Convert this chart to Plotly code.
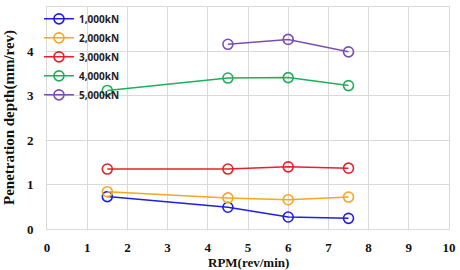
import plotly.graph_objects as go

rpm = [1.5, 4.5, 6, 7.5]
rpm_5000 = [4.5, 6, 7.5]
d_1000 = [0.73, 0.49, 0.27, 0.24]
d_2000 = [0.84, 0.70, 0.66, 0.72]
d_3000 = [1.35, 1.35, 1.40, 1.37]
d_4000 = [3.12, 3.40, 3.41, 3.23]
d_5000 = [4.16, 4.27, 3.99]
names = ["1,000kN", "2,000kN", "3,000kN", "4,000kN", "5,000kN"]
colors = ["#1f1fe0", "#f5a623", "#e8202a", "#1fae5a", "#7b4fb0"]

series = [(rpm, d_1000), (rpm, d_2000), (rpm, d_3000), (rpm, d_4000), (rpm_5000, d_5000)]

fig = go.Figure()
for (xs, ys), n, c in zip(series, names, colors):
    fig.add_trace(go.Scatter(
        x=xs, y=ys, name=n, mode="lines+markers",
        line=dict(color=c, width=1.5),
        marker=dict(symbol="circle-open", size=10, color=c, line=dict(width=1.6, color=c)),
        legendgroup=n,
    ))

serif = "Liberation Serif"
fig.update_layout(
    width=460, height=270,
    margin=dict(l=47, r=11, t=4, b=41),
    paper_bgcolor="white", plot_bgcolor="white",
    showlegend=True,
    legend=dict(
        x=-0.02, y=1.012, xanchor="left", yanchor="top",
        bgcolor="rgba(0,0,0,0)",
        font=dict(family="Open Sans", size=10, color="#222222", weight="bold"),
        tracegroupgap=0, itemwidth=30,
    ),
    xaxis=dict(
        range=[0, 10], dtick=1, tick0=0,
        showgrid=True, gridcolor="#d9d9d9", gridwidth=1,
        zeroline=False, showline=True, linecolor="#d9d9d9", mirror=True,
        ticks="", ticklabelstandoff=6,
        tickfont=dict(family=serif, size=13, color="#111111", weight="bold"),
    ),
    yaxis=dict(
        range=[0, 5], dtick=1, tick0=0,
        showgrid=True, gridcolor="#d9d9d9", gridwidth=1,
        zeroline=False, showline=True, linecolor="#d9d9d9", mirror=True,
        ticks="", ticklabelstandoff=10,
        tickfont=dict(family=serif, size=13, color="#111111", weight="bold"),
    ),
    annotations=[
        dict(text="RPM(rev/min)", xref="paper", yref="paper", x=0.5, y=0,
             yshift=-33, xanchor="center", yanchor="middle", showarrow=False,
             font=dict(family=serif, size=13, color="#111111", weight="bold")),
        dict(text="Penetration depth(mm/rev)", xref="paper", yref="paper", x=0, y=0.5,
             xshift=-38, xanchor="center", yanchor="middle", showarrow=False, textangle=-90,
             font=dict(family=serif, size=15, color="#111111", weight="bold")),
    ],
)

fig.write_html("out.html")
